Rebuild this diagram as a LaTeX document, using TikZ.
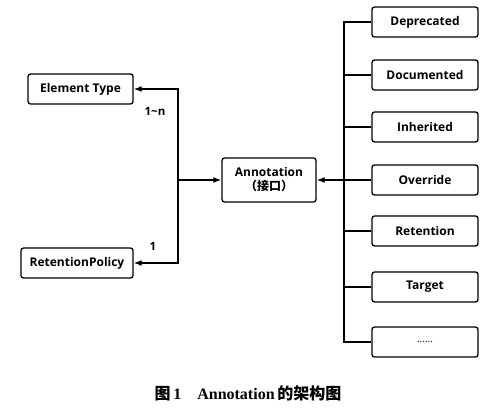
\documentclass[tikz,border=0pt]{standalone}
\usepackage{fontspec}
\setmainfont{Open Sans}
\newfontfamily\cjk{Noto Sans CJK SC}
\newfontfamily\capfont{Liberation Serif}
\usetikzlibrary{arrows.meta}
\begin{document}
\begin{tikzpicture}[x=1pt,y=-1pt,
  box/.style={draw, line width=1.3pt, rounded corners=2.5pt, fill=white,
    font=\bfseries\fontsize{12}{14}\selectfont, inner sep=0pt, align=center},
  lbox/.style={box, minimum width=105pt, minimum height=30pt},
  rbox/.style={box, minimum width=106pt, minimum height=30pt},
  conn/.style={line width=1.3pt},
  arr/.style={conn, -{Latex[length=8pt,width=6pt]}},
  lab/.style={font=\bfseries\fontsize{11.5}{13}\selectfont}]
\useasboundingbox (0,0) rectangle (500,419);
\node[lbox] (et) at (80.5,89) {Element Type};
\node[box, minimum width=112pt, minimum height=30pt] (rp) at (77,263) {RetentionPolicy};
\node[box, minimum width=94pt, minimum height=44pt] (ann) at (269,180) {Annotation\\{\cjk （接口）}};
\node[rbox] (dep) at (425,22) {Deprecated};
\node[rbox] (doc) at (425,75) {Documented};
\node[rbox] (inh) at (425,127) {Inherited};
\node[rbox] (ovr) at (425,180) {Override};
\node[rbox] (ret) at (425,231) {Retention};
\node[rbox] (tar) at (425,287) {Target};
\node[rbox, font=\fontsize{10}{12}\selectfont] (dots) at (425,342) {......};
\coordinate (lj) at (178,180);
\coordinate (rt) at (344,180);
\draw[arr] (lj) -- (ann.west);
\draw[arr] (lj) |- (et.east);
\draw[arr] (lj) |- (rp.east);
\draw[conn] (dep.west) -| (rt);
\draw[conn] (rt) |- (dots.west);
\draw[conn] (doc.west) -- (doc.west -| rt);
\draw[conn] (inh.west) -- (inh.west -| rt);
\draw[conn] (ret.west) -- (ret.west -| rt);
\draw[conn] (tar.west) -- (tar.west -| rt);
\draw[arr] (ovr.west) -- (ann.east);
\node[lab] (l1) at (155,111) {1\textasciitilde n};
\node[lab] (l2) at (153,246) {1};
\node (cap) at (248,393) {\fontsize{16}{18}\selectfont\cjk\bfseries 图\,\capfont 1\quad Annotation\,\cjk 的架构图};
\end{tikzpicture}
\end{document}
